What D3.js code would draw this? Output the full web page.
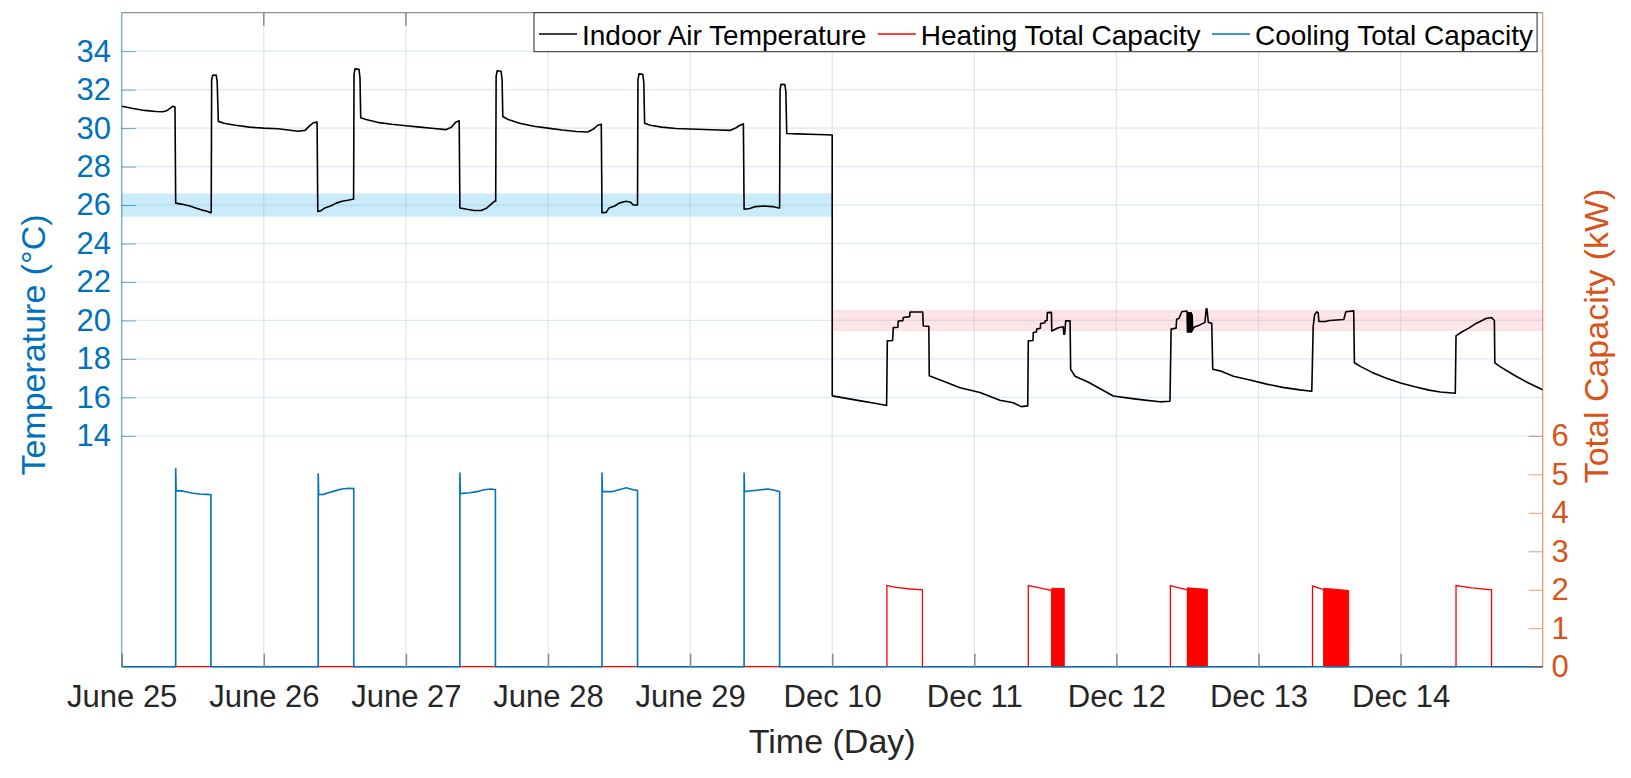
<!DOCTYPE html>
<html><head><meta charset="utf-8">
<script src="https://cdn.jsdelivr.net/npm/d3@7"></script>
<style>
body{margin:0;background:#fff}
svg{display:block}
text{font-family:"Liberation Sans",Arial,Helvetica,sans-serif}
</style>
</head><body>
<svg id="chart" width="1631" height="778"></svg>
<script>
// ---------------- DATA ----------------
const dayLabels = ["June 25","June 26","June 27","June 28","June 29","Dec 10","Dec 11","Dec 12","Dec 13","Dec 14"];
const dayTicks = [0,1,2,3,4,5,6,7,8,9];
const tempTicks = [14,16,18,20,22,24,26,28,30,32,34];
const capTicks = [0,1,2,3,4,5,6];
const seriesNames = ["Indoor Air Temperature","Heating Total Capacity","Cooling Total Capacity"];

// setpoint bands: [day from, day to, low, high]
const coolBand = [0, 5, 25.4, 26.6];
const heatBand = [5, 10, 19.45, 20.55];
const heatBandLines = [19.7, 20.3];

// Indoor air temperature [day, °C]
const indoorTemp = [
 [0,31.14],[0.08,31.02],[0.16,30.92],[0.24,30.86],[0.29,30.85],[0.32,30.92],[0.345,31.05],[0.36,31.14],[0.375,31.1],
 [0.38,26.1],[0.42,26.05],[0.45,26.0],[0.48,25.95],[0.52,25.85],[0.56,25.75],[0.6,25.68],[0.625,25.6],[0.63,25.6],
 [0.633,32.5],[0.64,32.74],[0.665,32.76],[0.672,32.4],[0.68,30.35],[0.72,30.25],[0.8,30.15],[0.9,30.05],[1.0,30.0],
 [1.1,29.97],[1.2,29.88],[1.24,29.84],[1.29,29.88],[1.32,30.1],[1.35,30.28],[1.375,30.31],
 [1.38,25.66],[1.40,25.7],[1.43,25.85],[1.47,25.95],[1.51,26.1],[1.55,26.2],[1.59,26.25],[1.625,26.3],[1.632,26.3],
 [1.635,32.8],[1.642,33.08],[1.67,33.06],[1.677,32.6],[1.682,30.54],[1.72,30.45],[1.8,30.3],[1.9,30.2],[2.0,30.12],
 [2.1,30.05],[2.2,29.98],[2.28,29.92],[2.32,30.05],[2.35,30.3],[2.375,30.38],
 [2.38,25.85],[2.43,25.78],[2.48,25.72],[2.53,25.72],[2.57,25.85],[2.6,26.05],[2.625,26.2],[2.632,26.2],
 [2.635,32.7],[2.642,32.98],[2.67,32.96],[2.677,32.5],[2.682,30.6],[2.72,30.45],[2.8,30.25],[2.9,30.1],[3.0,30.0],
 [3.1,29.9],[3.2,29.82],[3.28,29.8],[3.32,29.95],[3.35,30.15],[3.375,30.2],
 [3.38,25.6],[3.41,25.62],[3.43,25.85],[3.47,25.95],[3.5,26.1],[3.55,26.2],[3.58,26.15],[3.6,26.0],[3.63,26.0],
 [3.633,32.5],[3.64,32.82],[3.667,32.8],[3.674,32.4],[3.68,30.25],[3.72,30.15],[3.8,30.05],[3.9,29.98],[4.0,29.95],
 [4.1,29.93],[4.2,29.9],[4.28,29.88],[4.32,30.0],[4.35,30.15],[4.375,30.22],
 [4.38,25.78],[4.42,25.82],[4.46,25.92],[4.52,25.95],[4.58,25.92],[4.625,25.85],[4.63,25.85],
 [4.633,32.0],[4.64,32.28],[4.667,32.26],[4.674,31.9],[4.68,29.72],[4.75,29.7],[4.9,29.67],[5.0,29.64],
 [5.0005,16.08],[5.1,15.95],[5.2,15.82],[5.3,15.7],[5.383,15.58],
 [5.388,18.94],[5.425,18.96],[5.43,19.63],[5.462,19.65],[5.465,19.97],[5.497,19.99],[5.5,20.15],[5.545,20.2],[5.548,20.44],[5.637,20.44],
 [5.641,19.71],[5.68,19.7],[5.683,17.12],[5.806,16.77],[5.9,16.5],[6.04,16.26],[6.18,15.85],[6.275,15.72],[6.33,15.52],[6.376,15.56],
 [6.38,18.94],[6.413,18.96],[6.415,19.37],[6.437,19.4],[6.439,19.55],[6.465,19.6],[6.467,19.84],[6.496,19.88],[6.498,19.98],[6.512,20.0],[6.514,20.41],[6.543,20.42],
 [6.545,19.45],[6.591,19.62],[6.626,19.67],[6.63,19.28],[6.636,19.28],[6.643,19.98],[6.674,19.98],
 [6.678,17.46],[6.709,17.1],[6.8,16.8],[6.978,16.07],[7.1,15.95],[7.2,15.86],[7.307,15.77],[7.377,15.8],
 [7.385,19.55],[7.42,19.6],[7.424,20.06],[7.44,20.1],[7.46,20.45],[7.497,20.49],
 [7.5,19.4],[7.503,20.4],[7.506,19.4],[7.509,20.4],[7.512,19.4],[7.515,20.4],[7.518,19.4],[7.521,20.4],[7.524,19.4],[7.527,20.4],[7.53,19.4],[7.533,20.3],[7.537,19.5],[7.541,19.6],
 [7.553,19.67],[7.588,19.77],[7.623,19.9],[7.632,20.6],[7.637,20.6],[7.647,19.9],[7.671,19.85],
 [7.678,17.46],[7.729,17.38],[7.823,17.1],[7.94,16.9],[8.058,16.69],[8.17,16.52],[8.292,16.39],[8.375,16.32],
 [8.385,19.7],[8.39,20.0],[8.395,20.3],[8.41,20.45],[8.42,20.4],[8.425,19.95],[8.47,19.95],[8.5,20.0],[8.6,20.05],[8.615,20.45],[8.67,20.5],
 [8.675,17.8],[8.72,17.6],[8.8,17.3],[8.9,17.0],[9.0,16.75],[9.1,16.55],[9.2,16.38],[9.28,16.28],[9.385,16.22],
 [9.39,19.2],[9.43,19.4],[9.48,19.6],[9.52,19.8],[9.56,19.95],[9.6,20.1],[9.64,20.15],[9.66,20.0],
 [9.663,17.8],[9.7,17.6],[9.8,17.15],[9.9,16.75],[10.0,16.4]
];

// Heating total capacity [day, kW]
const heatingCap = [
 [0,0],[5.385,0],[5.385,2.11],[5.45,2.06],[5.55,2.02],[5.635,2.0],[5.635,0],
 [6.38,0],[6.38,2.11],[6.46,2.05],[6.545,1.98],[6.545,0],
 [7.38,0],[7.38,2.11],[7.44,2.05],[7.5,2.0],[7.5,0],
 [8.38,0],[8.38,2.1],[8.42,2.05],[8.46,2.0],[8.46,0],
 [9.39,0],[9.39,2.11],[9.5,2.05],[9.64,2.0],[9.64,0],[10,0]
];
// rapid on/off cycling of heating (drawn filled): [start day, end day, kW at start, kW at end]
const heatingCycling = [
 [6.545, 6.633, 2.04, 2.03],
 [7.50, 7.64, 2.05, 2.01],
 [8.46, 8.635, 2.04, 1.98]
];

// Cooling total capacity [day, kW]
const coolingCap = [
 [0,0],[0.38,0],[0.38,5.16],[0.383,4.57],[0.42,4.57],[0.46,4.54],[0.5,4.51],[0.55,4.49],[0.6,4.48],[0.628,4.47],[0.628,0],
 [1.383,0],[1.383,5.03],[1.386,4.47],[1.42,4.48],[1.46,4.53],[1.5,4.57],[1.55,4.62],[1.6,4.64],[1.633,4.63],[1.633,0],
 [2.38,0],[2.38,5.05],[2.383,4.5],[2.45,4.52],[2.5,4.55],[2.55,4.6],[2.6,4.62],[2.63,4.6],[2.63,0],
 [3.38,0],[3.38,5.05],[3.383,4.55],[3.45,4.55],[3.5,4.6],[3.55,4.65],[3.6,4.6],[3.63,4.58],[3.63,0],
 [4.38,0],[4.38,5.05],[4.383,4.55],[4.45,4.58],[4.5,4.6],[4.55,4.62],[4.6,4.58],[4.63,4.55],[4.63,0],[10,0]
];

// ---------------- CHART ----------------
const C = {blue:"#0072BD", orange:"#D95319", dark:"#262626", heat:"#FF0000", cool:"#0072BD"};
const L = 121.7, R = 1542.7, T = 12.7, B = 666.7;
const svg = d3.select("#chart");
svg.append("rect").attr("width",1631).attr("height",778).attr("fill","#fff");

const x = d3.scaleLinear().domain([0,10]).range([L,R]);
const yL = d3.scaleLinear().domain([2,36]).range([B,T]);
const yR = d3.scaleLinear().domain([0,17]).range([B,T]);

// grid
const g = svg.append("g");
g.selectAll("line.vg").data(dayTicks.filter(d=>d>0)).join("line")
  .attr("x1",d=>x(d)).attr("x2",d=>x(d)).attr("y1",T).attr("y2",B)
  .attr("stroke","#e4e4e4").attr("stroke-width",1.2);
g.selectAll("line.hg").data(tempTicks).join("line")
  .attr("x1",L).attr("x2",R).attr("y1",d=>yL(d)).attr("y2",d=>yL(d))
  .attr("stroke","#dce9f4").attr("stroke-width",1.2);

// bands
svg.append("rect").attr("x",x(coolBand[0])).attr("width",x(coolBand[1])-x(coolBand[0]))
  .attr("y",yL(coolBand[3])).attr("height",yL(coolBand[2])-yL(coolBand[3]))
  .attr("fill","#4DBEEE").attr("fill-opacity",0.3);
svg.append("rect").attr("x",x(heatBand[0])).attr("width",x(heatBand[1])-x(heatBand[0]))
  .attr("y",yL(heatBand[3])).attr("height",yL(heatBand[2])-yL(heatBand[3]))
  .attr("fill","#f7a1ac").attr("fill-opacity",0.3);
svg.selectAll("line.hbl").data(heatBandLines).join("line")
  .attr("x1",x(heatBand[0])).attr("x2",x(heatBand[1])).attr("y1",d=>yL(d)).attr("y2",d=>yL(d))
  .attr("stroke","#fff").attr("stroke-opacity",0.5).attr("stroke-width",1);

// series
const lineT = d3.line().x(d=>x(d[0])).y(d=>yL(d[1]));
const lineC = d3.line().x(d=>x(d[0])).y(d=>yR(d[1]));
svg.append("path").attr("d",lineT(indoorTemp)).attr("fill","none")
  .attr("stroke","#000").attr("stroke-width",1.6).attr("stroke-linejoin","round");
svg.append("path").attr("d",lineC(heatingCap)).attr("fill","none")
  .attr("stroke",C.heat).attr("stroke-width",1.3);
const area = d3.area().x(d=>x(d[0])).y0(yR(0)).y1(d=>yR(d[1]));
svg.selectAll("path.cyc").data(heatingCycling).join("path")
  .attr("d",d=>area([[d[0],d[2]],[d[1],d[3]]]))
  .attr("fill",C.heat).attr("stroke",C.heat).attr("stroke-width",1);
svg.append("path").attr("d",lineC(coolingCap)).attr("fill","none")
  .attr("stroke",C.cool).attr("stroke-width",1.6);

// axes
const fs = "31px";
const ax = svg.append("g").attr("transform",`translate(0,${B})`)
  .call(d3.axisBottom(x).tickValues(dayTicks).tickFormat(i=>dayLabels[i]).tickSize(-13).tickPadding(18.3));
ax.select(".domain").remove();
ax.selectAll("line").attr("stroke","#8a8a8a").attr("stroke-width",1.5);
ax.selectAll("text").attr("fill",C.dark).style("font-size",fs);
// top ticks + border
svg.selectAll("line.tt").data(dayTicks.filter(d=>d>0)).join("line")
  .attr("x1",d=>x(d)).attr("x2",d=>x(d)).attr("y1",T).attr("y2",T+13)
  .attr("stroke","#8a8a8a").attr("stroke-width",1.5);
svg.append("line").attr("x1",L).attr("x2",R).attr("y1",T).attr("y2",T).attr("stroke","#777").attr("stroke-width",1);

const ayl = svg.append("g").attr("transform",`translate(${L},0)`)
  .call(d3.axisLeft(yL).tickValues(tempTicks).tickSize(-14).tickPadding(10.7));
ayl.select(".domain").remove();
ayl.selectAll("line").attr("stroke",C.blue).attr("stroke-opacity",0.6);
ayl.selectAll("text").attr("fill",C.blue).style("font-size",fs);
svg.append("line").attr("x1",L).attr("x2",L).attr("y1",T).attr("y2",B).attr("stroke",C.blue).attr("stroke-opacity",0.6).attr("stroke-width",1.3);

const ayr = svg.append("g").attr("transform",`translate(${R},0)`)
  .call(d3.axisRight(yR).tickValues(capTicks).tickSize(-14).tickPadding(8.7));
ayr.select(".domain").remove();
ayr.selectAll("line").attr("stroke",C.orange).attr("stroke-opacity",0.6);
ayr.selectAll("text").attr("fill",C.orange).style("font-size",fs);
svg.append("line").attr("x1",R).attr("x2",R).attr("y1",T).attr("y2",B).attr("stroke",C.orange).attr("stroke-opacity",0.6).attr("stroke-width",1.3);

// axis titles
svg.append("text").attr("transform",`translate(45,345) rotate(-90)`).attr("text-anchor","middle")
  .attr("fill",C.blue).style("font-size","34px").text("Temperature (°C)");
svg.append("text").attr("transform",`translate(1608,336) rotate(-90)`).attr("text-anchor","middle")
  .attr("fill",C.orange).style("font-size","34px").text("Total Capacity (kW)");
svg.append("text").attr("x",(L+R)/2).attr("y",753).attr("text-anchor","middle")
  .attr("fill",C.dark).style("font-size","34px").text("Time (Day)");

// legend
const lg = svg.append("g");
const box = lg.append("rect").attr("y",T).attr("height",39).attr("fill","#fff").attr("stroke","#262626").attr("stroke-width",1);
const colors = ["#000", C.heat, C.cool];
let cx = 539;
seriesNames.forEach((nm,i)=>{
  lg.append("line").attr("x1",cx).attr("x2",cx+38).attr("y1",34).attr("y2",34).attr("stroke",colors[i]).attr("stroke-width",1.3);
  const t = lg.append("text").attr("x",cx+43).attr("y",45).attr("fill","#000").style("font-size","28px").text(nm);
  cx = cx + 43 + t.node().getComputedTextLength() + 11.5;
});
const boxL = 534, boxR = cx - 11.5 + 4;
box.attr("x",boxL).attr("width",boxR-boxL);
</script>
</body></html>
